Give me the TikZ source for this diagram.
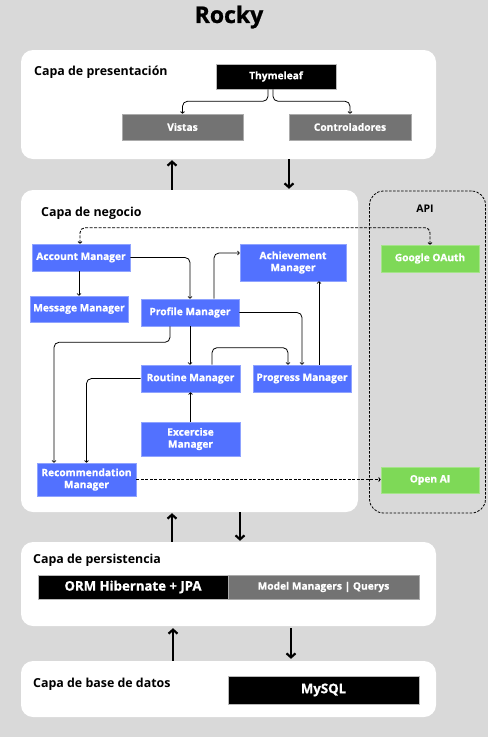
\documentclass[tikz,border=0pt]{standalone}
\usepackage{fontspec}
\setmainfont{Open Sans}
\newfontfamily\heavy{Open Sans}[BoldFeatures={FakeBold=0.9}]
\usetikzlibrary{arrows.meta}
\definecolor{bgc}{HTML}{D9D9D9}
\definecolor{mblue}{HTML}{5271FF}
\definecolor{mgreen}{HTML}{7ED957}
\definecolor{mgray}{HTML}{737373}
\tikzset{
  layer/.style={fill=white, rounded corners=12pt, inner sep=0pt},
  apibox/.style={draw=black, dashed, dash pattern=on 2.5pt off 1.5pt, line width=0.8pt, rounded corners=14pt, inner sep=0pt},
  boxfont/.style={font=\heavy\bfseries\fontsize{10.2}{12}\selectfont},
  mgr/.style={fill=mblue, draw=mblue!65!white, line width=0.6pt, text=white, boxfont, inner sep=0pt, align=center},
  ext/.style={fill=mgreen, draw=mgreen!70!white, line width=0.6pt, text=white, boxfont, inner sep=0pt, align=center},
  blk/.style={fill=black, draw=mgray!50!white, line width=0.5pt, text=white, boxfont, inner sep=0pt, align=center},
  gry/.style={fill=mgray, draw=mgray!60!white, line width=0.5pt, text=white, boxfont, inner sep=0pt, align=center},
  lab/.style={anchor=west, font=\bfseries\fontsize{12.4}{14}\selectfont, inner sep=0pt},
  conn/.style={draw=black, line width=0.8pt, rounded corners=5pt, -{To[length=2.5pt,width=4.5pt]}},
  dconn/.style={draw=black, line width=0.9pt, dash pattern=on 3pt off 1.5pt, rounded corners=5pt, {To[length=2.5pt,width=4.5pt]}-{To[length=2.5pt,width=4.5pt]}},
  dconnone/.style={draw=black, line width=0.9pt, dash pattern=on 3pt off 1.5pt, -{To[length=2.5pt,width=4.5pt]}},
  lay/.style={draw=black, line width=2.2pt, -{Straight Barb[length=4pt,width=9pt]}},
}
\begin{document}
\begin{tikzpicture}[x=1pt,y=-1pt]
\useasboundingbox (0,0) rectangle (488,737);
\fill[bgc] (0,0) rectangle (488,737);

\node[font=\heavy\bfseries\fontsize{23}{26}\selectfont] (title) at (229,17) {Rocky};

% layers
\node[layer, minimum width=415pt, minimum height=109pt] (pres) at (228.5,104.5) {};
\node[layer, minimum width=337pt, minimum height=322pt] (neg) at (189.5,351) {};
\node[apibox, minimum width=116pt, minimum height=322pt] (api) at (427.5,352) {};
\node[layer, minimum width=415pt, minimum height=84pt] (pers) at (228.5,584) {};
\node[layer, minimum width=415pt, minimum height=56pt] (db) at (228.5,689) {};

\node[lab] (lpres) at (34,72) {Capa de presentación};
\node[lab] (lneg) at (41,213) {Capa de negocio};
\node[lab] (lpers) at (33,560) {Capa de persistencia};
\node[lab] (ldb) at (33,684) {Capa de base de datos};
\node[font=\bfseries\fontsize{10.5}{12}\selectfont] (lapi) at (425,209) {API};

% presentation
\node[blk, minimum width=120pt, minimum height=25pt] (thy) at (276,76.5) {Thymeleaf};
\node[gry, minimum width=121pt, minimum height=26pt] (vis) at (182.5,127) {Vistas};
\node[gry, minimum width=122pt, minimum height=26pt] (ctl) at (350,127) {Controladores};
\draw[conn] ([xshift=-8pt]thy.south) -- ++(0,12) -| (vis.north);
\draw[conn] ([xshift=-3pt]thy.south) -- ++(0,12) -| (ctl.north);

% business
\node[mgr, minimum width=98pt, minimum height=27pt] (acc) at (81,257.5) {Account Manager};
\node[mgr, minimum width=98pt, minimum height=26pt] (msg) at (79,309) {Message Manager};
\node[mgr, minimum width=98pt, minimum height=27pt] (prof) at (190,312.5) {Profile Manager};
\node[mgr, minimum width=106pt, minimum height=37pt] (ach) at (293,262.5) {Achievement\\Manager};
\node[ext, minimum width=98pt, minimum height=27pt] (goo) at (430,258.5) {Google OAuth};
\node[mgr, minimum width=99pt, minimum height=27pt] (rout) at (190.5,378.5) {Routine Manager};
\node[mgr, minimum width=98pt, minimum height=27pt] (prog) at (302,378.5) {Progress Manager};
\node[mgr, minimum width=99pt, minimum height=34pt] (exc) at (190.5,439) {Excercise\\Manager};
\node[mgr, minimum width=99pt, minimum height=33pt] (rec) at (86.5,479.5) {Recommendation\\Manager};
\node[ext, minimum width=98pt, minimum height=26pt] (oai) at (430,480) {Open AI};

\draw[dconn] ([xshift=-1pt]acc.north) -- ++(0,-16) -| (goo.north);
\draw[conn] (acc.east) -| (prof.north);
\draw[conn] (msg.north |- acc.south) -- (msg.north);
\draw[conn] ([xshift=24pt]prof.north) |- ([yshift=9.5pt]ach.west);
\draw[conn] (prof.east) -| (prog.north);
\draw[conn] (prof.south) -- (prof.south |- rout.north);
\draw[conn] ([xshift=-20pt]prof.south) -- ++(0,16) -| ([xshift=-32.5pt]rec.north);
\draw[conn] (rout.west) -| (rec.north);
\draw[conn] ([xshift=21.5pt]rout.north) -- ++(0,-17) -| ([xshift=-14pt]prog.north);
\draw[conn] ([xshift=17pt]prog.north) -- ([xshift=17pt]prog.north |- ach.south);
\draw[conn] (exc.north) -- (rout.south);
\draw[dconnone] (rec.east) -- (rec.east -| oai.west);

% persistence
\node[blk, minimum width=190pt, minimum height=24pt, font=\heavy\bfseries\fontsize{13.2}{15}\selectfont] (orm) at (133,587) {ORM Hibernate + JPA};
\node[gry, minimum width=191pt, minimum height=24pt] (mod) at (323.5,587) {Model Managers | Querys};

% database
\node[blk, minimum width=191pt, minimum height=28pt, font=\heavy\bfseries\fontsize{13.2}{15}\selectfont] (sql) at (323.5,690) {MySQL};

% layer arrows
\coordinate (x172) at (172,0);
\coordinate (x289) at (289,0);
\coordinate (x240) at (240,0);
\coordinate (x173) at (173,0);
\coordinate (x291) at (291,0);
\draw[lay] (neg.north -| x172) -- ([yshift=-1pt]pres.south -| x172);
\draw[lay] (pres.south -| x289) -- ([yshift=1pt]neg.north -| x289);
\draw[lay] (pers.north -| x172) -- ([yshift=-1pt]neg.south -| x172);
\draw[lay] (neg.south -| x240) -- ([yshift=1pt]pers.north -| x240);
\draw[lay] (db.north -| x173) -- ([yshift=-2pt]pers.south -| x173);
\draw[lay] ([yshift=-2pt]pers.south -| x291) -- ([yshift=2pt]db.north -| x291);
\end{tikzpicture}
\end{document}
